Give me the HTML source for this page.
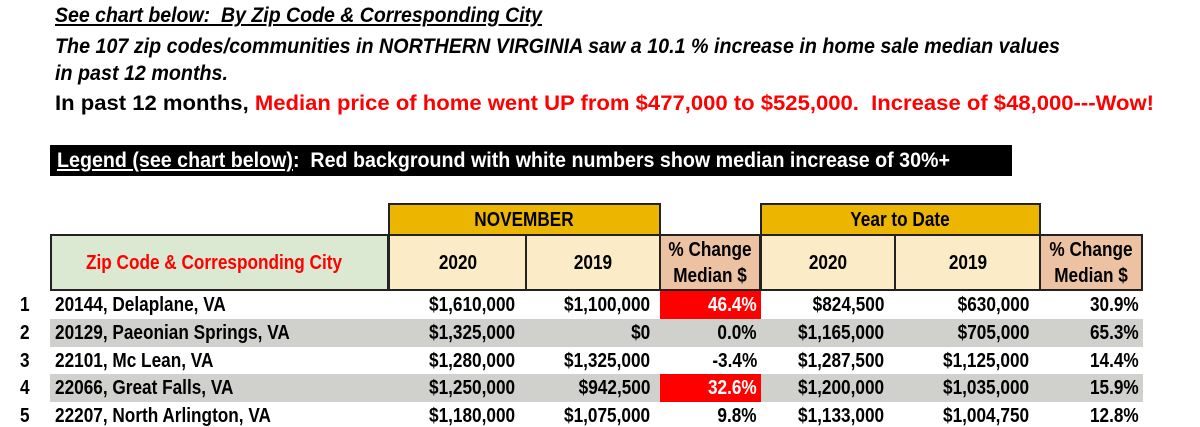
<!DOCTYPE html>
<html><head><meta charset="utf-8">
<style>
body{margin:0;width:1200px;height:426px;overflow:hidden;background:#fff;font-family:"Liberation Sans",Arial,sans-serif;font-weight:bold;color:#000;position:relative}
.a{position:absolute;white-space:nowrap;transform-origin:0 50%;line-height:1}
.t{font-size:21px}
.red{color:#f00}
.cell{position:absolute;box-sizing:border-box}
.c{position:absolute;white-space:nowrap;font-size:20px;line-height:1}
</style></head><body>
<div class="a t" data-w="487" style="left:55px;top:5px;font-style:italic;text-decoration:underline">See chart below:&nbsp; By Zip Code &amp; Corresponding City</div>
<div class="a t" data-w="1005" style="left:55px;top:36px;font-style:italic">The 107 zip codes/communities in NORTHERN VIRGINIA saw a 10.1 % increase in home sale median values</div>
<div class="a t" data-w="173" style="left:55px;top:63px;font-style:italic">in past 12 months.</div>
<div class="a t" data-w="1099" style="left:55px;top:93px">In past 12 months, <span class="red">Median price of home went UP from $477,000 to $525,000.&nbsp; Increase of $48,000---Wow!</span></div>
<div class="cell" style="left:50px;top:145px;width:962px;height:31px;background:#000"></div>
<div class="a t" data-w="893" style="left:57px;top:150px;color:#fff"><span style="text-decoration:underline">Legend (see chart below)</span>:&nbsp; Red background with white numbers show median increase of 30%+</div>
<div id="tbl"></div>
<script>
const rowNums=["1","2","3","4","5"];
const cities=["20144, Delaplane, VA","20129, Paeonian Springs, VA","22101, Mc Lean, VA","22066, Great Falls, VA","22207, North Arlington, VA"];
const nov2020=["$1,610,000","$1,325,000","$1,280,000","$1,250,000","$1,180,000"];
const nov2019=["$1,100,000","$0","$1,325,000","$942,500","$1,075,000"];
const novChg=[46.4,0.0,-3.4,32.6,9.8];
const ytd2020=["$824,500","$1,165,000","$1,287,500","$1,200,000","$1,133,000"];
const ytd2019=["$630,000","$705,000","$1,125,000","$1,035,000","$1,004,750"];
const ytdChg=[30.9,65.3,14.4,15.9,12.8];
const T=document.getElementById('tbl');
const SX=0.86;
function box(x,y,w,h,bg,border,name){const d=document.createElement('div');d.className='cell';


d.style.cssText=`left:${x}px;top:${y}px;width:${w}px;height:${h}px;background:${bg};${border?'border:2px solid #222;':''}`;T.appendChild(d);return d;}
function txt(s,x,y,align,color,name,fs){const d=document.createElement('div');d.className='c';


d.textContent=s;d.style.top=y+'px';if(color)d.style.color=color;if(fs)d.style.fontSize=fs+'px';
if(align==='r'){d.style.right=(1200-x)+'px';d.style.transformOrigin='100% 50%';d.style.transform=`scaleX(${SX})`;}
else if(align==='c'){d.style.left=x+'px';d.style.transform=`translateX(-50%) scaleX(${SX})`;}
else {d.style.left=x+'px';d.style.transformOrigin='0 50%';d.style.transform=`scaleX(${SX})`;}
T.appendChild(d);return d;}
box(388,203,273,33,'#ecb600',true,'november-header');
txt('NOVEMBER',524,210,'c',null,'november-label');
box(760,203,281,33,'#ecb600',true,'ytd-header');
txt('Year to Date',900,210,'c',null,'ytd-label');
box(50,234,339,57,'#dbe9d3',true,'city-header');
txt('Zip Code & Corresponding City',214,253,'c','#f00','city-header-label',20);
const sub=[[388,139,'#fbebc6','2020','nov-2020-header'],[525,136,'#fbebc6','2019','nov-2019-header'],[659,102,'#ecc2a2','','nov-change-header'],[760,136,'#fbebc6','2020','ytd-2020-header'],[894,147,'#fbebc6','2019','ytd-2019-header'],[1039,104,'#ecc2a2','','ytd-change-header']];
sub.forEach(s=>{box(s[0],234,s[1],57,s[2],true,s[4]);if(s[3])txt(s[3],s[0]+s[1]/2,253,'c',null,s[4]+'-label');else{txt('% Change',s[0]+s[1]/2,240,'c',null,s[4]+'-line1');txt('Median $',s[0]+s[1]/2,266,'c',null,s[4]+'-line2');}});
const y0=291,rh=27.8;
cities.forEach((c,i)=>{const y=y0+i*rh;
if(i%2===1)box(50,y,1093,rh,'#d0d0cc',false,'row-band');
if(novChg[i]>=30)box(660,y,101,rh,'#ff0000',false,'highlight-cell');
const ty=y+4;
txt(rowNums[i],20,ty,'l',null,'row-number');
txt(c,55,ty,'l',null,'city-cell');
txt(nov2020[i],515,ty,'r',null,'nov-2020-cell');
txt(nov2019[i],650,ty,'r',null,'nov-2019-cell');
txt(novChg[i].toFixed(1)+'%',757,ty,'r',novChg[i]>=30?'#fff':null,'nov-change-cell');
txt(ytd2020[i],884,ty,'r',null,'ytd-2020-cell');
txt(ytd2019[i],1029,ty,'r',null,'ytd-2019-cell');
txt(ytdChg[i].toFixed(1)+'%',1139,ty,'r',null,'ytd-change-cell');
});
document.querySelectorAll('[data-w]').forEach(e=>{const w=e.getBoundingClientRect().width;e.style.transform=`scaleX(${(+e.dataset.w)/w})`;});
</script>
</body></html>
